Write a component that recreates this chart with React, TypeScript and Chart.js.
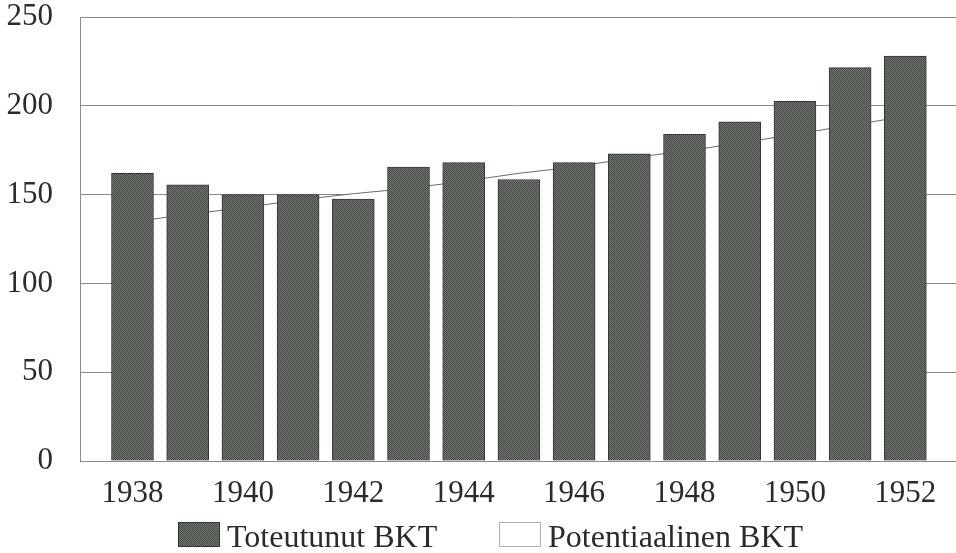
import React, { useEffect, useRef } from 'react';
import { Chart, registerables } from 'chart.js';

Chart.register(...registerables);

// ---- data ----
const years = [1938, 1939, 1940, 1941, 1942, 1943, 1944, 1945, 1946, 1947, 1948, 1949, 1950, 1951, 1952];
const actualGDP = [162, 155.5, 150, 150, 147.5, 165.5, 168, 158.5, 168, 173, 184, 191, 202.5, 221.5, 228];
const potentialGDP = [134.5, 139, 142.5, 147, 150.5, 153.5, 157.5, 162, 165.5, 170.5, 174.5, 179, 184, 189, 194];
const xTickYears = [1938, 1940, 1942, 1944, 1946, 1948, 1950, 1952];
const yTickValues = [0, 50, 100, 150, 200, 250];
const seriesLabels = ['Toteutunut BKT', 'Potentiaalinen BKT'];

const FONT = "'Liberation Serif', 'Times New Roman', serif";
const TEXT = '#2b2b2b';
const GRID = '#8a8a8a';

export default function App() {
  const ref = useRef<HTMLCanvasElement>(null);

  useEffect(() => {
    const canvas = ref.current;
    if (!canvas) return;

    // dithered dark-grey fill like the printed original
    const pc = document.createElement('canvas');
    pc.width = 2;
    pc.height = 2;
    const pctx = pc.getContext('2d')!;
    pctx.fillStyle = '#737873';
    pctx.fillRect(0, 0, 2, 2);
    pctx.fillStyle = '#444944';
    pctx.fillRect(0, 0, 1, 1);
    pctx.fillRect(1, 1, 1, 1);
    const pattern = canvas.getContext('2d')!.createPattern(pc, 'repeat') as CanvasPattern;

    const legendPlugin = {
      id: 'bottomLegend',
      afterDraw(chart: any) {
        const ctx = chart.ctx as CanvasRenderingContext2D;
        const items = [
          { x: 178, ds: 0, fill: pattern as any, stroke: '#333833' },
          { x: 499, ds: 1, fill: '#ffffff', stroke: '#b0b0b0' },
        ];
        ctx.save();
        ctx.font = `32px ${FONT}`;
        ctx.textBaseline = 'alphabetic';
        ctx.textAlign = 'left';
        items.forEach((it) => {
          ctx.fillStyle = it.fill;
          ctx.fillRect(it.x, 522, 42, 25);
          ctx.strokeStyle = it.stroke;
          ctx.lineWidth = 1;
          ctx.strokeRect(it.x + 0.5, 522.5, 41, 24);
          ctx.fillStyle = TEXT;
          ctx.fillText(chart.data.datasets[it.ds].label, it.x + 49, 547);
        });
        ctx.restore();
      },
    };

    const chart = new Chart(canvas, {
      type: 'bar',
      data: {
        datasets: [
          {
            type: 'bar',
            label: seriesLabels[0],
            data: years.map((y, i) => ({ x: y, y: actualGDP[i] })),
            backgroundColor: pattern as any,
            borderColor: '#333833',
            borderWidth: 1,
            barThickness: 42,
            order: 0,
          } as any,
          {
            type: 'line',
            label: seriesLabels[1],
            data: years.map((y, i) => ({ x: y, y: potentialGDP[i] })),
            borderColor: '#6a6a6a',
            borderWidth: 1,
            backgroundColor: '#ffffff',
            fill: 'origin',
            pointRadius: 0,
            tension: 0,
            order: 1,
          } as any,
        ],
      },
      options: {
        animation: false,
        responsive: true,
        maintainAspectRatio: false,
        layout: { padding: { top: 17, left: 0, right: 0, bottom: 0 } },
        plugins: {
          legend: { display: false },
          tooltip: { enabled: false },
        },
        scales: {
          x: {
            type: 'linear',
            offset: false,
            min: 1937.049,
            max: 1952.918,
            afterBuildTicks: (scale: any) => {
              scale.ticks = xTickYears.map((v) => ({ value: v }));
            },
            afterFit: (scale: any) => {
              scale.height = 92;
              scale.paddingLeft = 0;
              scale.paddingRight = 0;
            },
            grid: { display: false, drawTicks: false, offset: false },
            border: { display: true, color: GRID, width: 1 },
            ticks: {
              autoSkip: false,
              maxRotation: 0,
              padding: 14,
              color: TEXT,
              font: { family: FONT, size: 31 },
              callback: (v: any) => String(v),
            },
          },
          y: {
            min: 0,
            max: 250,
            afterBuildTicks: (scale: any) => {
              scale.ticks = yTickValues.map((v) => ({ value: v }));
            },
            afterFit: (scale: any) => {
              scale.width = 80;
              scale.paddingTop = 0;
              scale.paddingBottom = 0;
            },
            grid: { color: GRID, lineWidth: 1, drawTicks: false },
            border: { display: true, color: GRID, width: 1 },
            ticks: {
              padding: 27,
              color: TEXT,
              font: { family: FONT, size: 31, lineHeight: 1 },
              callback: (v: any) => String(v),
            },
          },
        },
      },
      plugins: [legendPlugin],
    });

    return () => chart.destroy();
  }, []);

  return (
    <div style={{ position: 'fixed', left: 0, top: 0, width: 956, height: 553, background: '#fff' }}>
      <canvas ref={ref} />
    </div>
  );
}
